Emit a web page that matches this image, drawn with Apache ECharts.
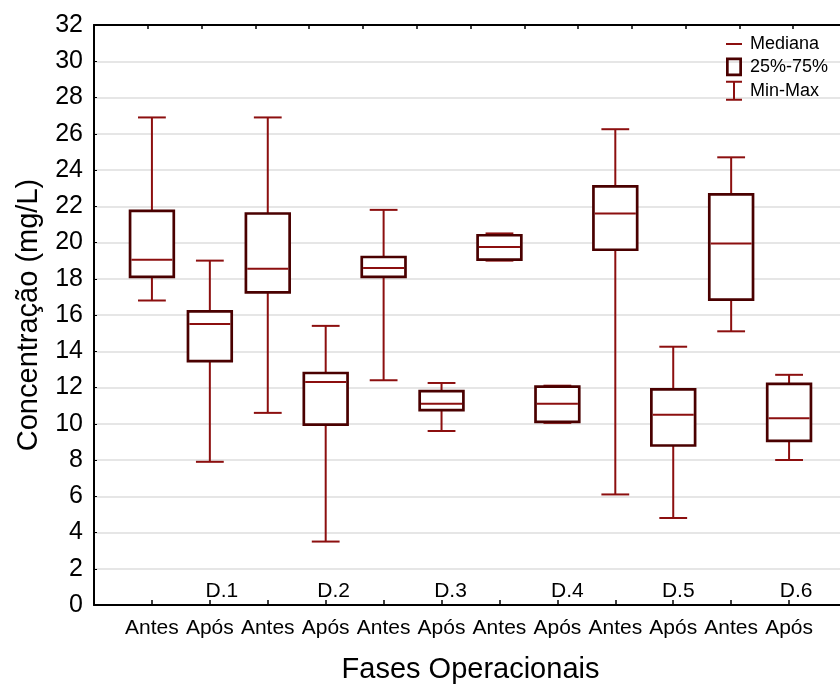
<!DOCTYPE html>
<html>
<head>
<meta charset="utf-8">
<script src="https://cdn.jsdelivr.net/npm/echarts@6/dist/echarts.min.js"></script>
<style>html,body{margin:0;padding:0;background:#fff;}#chart{width:840px;height:684px;}</style>
</head>
<body>
<div id="chart"></div>
<script>
// ---- data ----
const categories = ['Antes','Após','Antes','Após','Antes','Após','Antes','Após','Antes','Após','Antes','Após'];
const phaseLabels = ['D.1','D.2','D.3','D.4','D.5','D.6'];
const minVals    = [16.8, 7.9, 10.6, 3.5, 12.4, 9.6, 19.0, 10.05, 6.1, 4.8, 15.1, 8.0];
const q1Vals     = [18.1, 13.45, 17.25, 9.95, 18.1, 10.75, 19.05, 10.1, 19.6, 8.8, 16.85, 9.05];
const medianVals = [19.05, 15.5, 18.55, 12.3, 18.6, 11.1, 19.75, 11.1, 21.6, 10.5, 19.95, 10.3];
const q3Vals     = [21.75, 16.2, 21.6, 12.8, 19.2, 11.8, 20.4, 12.05, 23.1, 11.9, 22.65, 12.2];
const maxVals    = [26.9, 19.0, 26.9, 15.4, 21.8, 12.25, 20.5, 12.1, 26.25, 14.25, 24.7, 12.7];
const yMin = 0, yMax = 32, yStep = 2;

// ---- style ----
const FONT = 'Liberation Sans, Arial, sans-serif';
const whiskerColor = '#8c0f0f';
const boxColor = '#4a0000';
const dLabelShift = [12, 8, 9, 10, 5, 7];

// ---- build ----
const axisCats = [''].concat(categories).concat(['']);
const phaseCats = axisCats.map(function (c, i) {
  return (i > 0 && i % 2 === 0 && i / 2 - 1 < phaseLabels.length) ? phaseLabels[i / 2 - 1] : '';
});
const topCats = axisCats.map(function () { return ''; });
const boxData = categories.map(function (c, i) {
  return [i + 1, minVals[i], q1Vals[i], medianVals[i], q3Vals[i], maxVals[i]];
});
const rich = {};
dLabelShift.forEach(function (s, k) {
  rich['d' + k] = { padding: [0, 0, 0, 2 * s], fontSize: 21, fontFamily: FONT, color: '#000' };
});

function pts(api) {
  const x = api.value(0);
  return {
    min: api.coord([x, api.value(1)]),
    q1: api.coord([x, api.value(2)]),
    med: api.coord([x, api.value(3)]),
    q3: api.coord([x, api.value(4)]),
    max: api.coord([x, api.value(5)]),
    band: api.size([1, 0])[0]
  };
}

const chart = echarts.init(document.getElementById('chart'), null, { renderer: 'canvas' });
chart.setOption({
  animation: false,
  backgroundColor: '#fff',
  textStyle: { fontFamily: FONT },
  grid: { left: 94, top: 25, width: 753, height: 580, containLabel: false, outerBoundsMode: 'none' },
  legend: {
    orient: 'vertical', left: 726, top: 35, padding: 0,
    itemWidth: 16, itemHeight: 20, itemGap: 4.5,
    symbolKeepAspect: true,
    selectedMode: false,
    textStyle: { fontSize: 18, fontFamily: FONT, color: '#000', padding: [0, 0, 0, 3] },
    data: [
      { name: 'Mediana', icon: 'path://M0,9h16v2h-16z', itemStyle: { color: whiskerColor, borderWidth: 0 } },
      { name: '25%-75%', icon: 'path://M0,0.6h16v18.8h-16z M2.7,3.3v13.4h10.6v-13.4z', itemStyle: { color: boxColor, borderWidth: 0 } },
      { name: 'Min-Max', icon: 'path://M0,0h16v2h-16z M7,2h2v16h-2z M0,18h16v2h-16z', itemStyle: { color: whiskerColor, borderWidth: 0 } }
    ]
  },
  xAxis: [
    {
      type: 'category', data: axisCats, position: 'bottom', boundaryGap: false,
      name: 'Fases Operacionais', nameLocation: 'middle', nameGap: 50,
      nameTextStyle: { fontSize: 29, fontFamily: FONT, color: '#000' },
      axisLine: { show: true, onZero: false, lineStyle: { color: '#000', width: 2 } },
      axisTick: { show: true, inside: true, length: 5, interval: 0, lineStyle: { color: '#000', width: 1.5 } },
      axisLabel: { show: true, interval: 0, margin: 12.5, fontSize: 21, fontFamily: FONT, color: '#000' },
      splitLine: { show: false }
    },
    {
      type: 'category', data: phaseCats, position: 'bottom', boundaryGap: false,
      axisLine: { show: false, onZero: false },
      axisTick: { show: false },
      axisLabel: {
        show: true, inside: true, interval: 0, margin: 3, fontSize: 21, fontFamily: FONT, color: '#000',
        formatter: function (v) {
          const k = phaseLabels.indexOf(v);
          return k >= 0 ? '{d' + k + '|' + v + '}' : '';
        },
        rich: rich
      },
      splitLine: { show: false }
    },
    {
      type: 'category', data: topCats, position: 'top', boundaryGap: true,
      axisLine: { show: true, onZero: false, lineStyle: { color: '#000', width: 2 } },
      axisTick: { show: true, inside: true, length: 4, interval: 0, lineStyle: { color: '#000', width: 1.5 } },
      axisLabel: { show: false },
      splitLine: { show: false }
    }
  ],
  yAxis: {
    type: 'value', min: yMin, max: yMax, interval: yStep,
    name: 'Concentração (mg/L)', nameLocation: 'middle', nameGap: 51,
    nameTextStyle: { fontSize: 29, fontFamily: FONT, color: '#000' },
    axisLine: { show: true, lineStyle: { color: '#000', width: 2 } },
    axisTick: { show: true, inside: true, length: 3, lineStyle: { color: '#000', width: 1 } },
    axisLabel: { show: true, margin: 11, fontSize: 25, fontFamily: FONT, color: '#000' },
    splitLine: { show: true, lineStyle: { color: '#dedede', width: 1.5 } }
  },
  series: [
    {
      name: 'Min-Max', type: 'custom', xAxisIndex: 0, yAxisIndex: 0,
      itemStyle: { color: whiskerColor },
      encode: { x: 0, y: [1, 2, 3, 4, 5] },
      data: boxData,
      renderItem: function (params, api) {
        const p = pts(api);
        const cx = p.min[0];
        const cw = p.band * 0.48;
        const st = { stroke: whiskerColor, lineWidth: 2 };
        return {
          type: 'group', children: [
            { type: 'line', shape: { x1: cx, y1: p.min[1], x2: cx, y2: p.q1[1] }, style: st },
            { type: 'line', shape: { x1: cx, y1: p.q3[1], x2: cx, y2: p.max[1] }, style: st },
            { type: 'line', shape: { x1: cx - cw / 2, y1: p.min[1], x2: cx + cw / 2, y2: p.min[1] }, style: st },
            { type: 'line', shape: { x1: cx - cw / 2, y1: p.max[1], x2: cx + cw / 2, y2: p.max[1] }, style: st }
          ]
        };
      }
    },
    {
      name: '25%-75%', type: 'custom', xAxisIndex: 0, yAxisIndex: 0,
      itemStyle: { color: boxColor },
      encode: { x: 0, y: [1, 2, 3, 4, 5] },
      data: boxData,
      renderItem: function (params, api) {
        const p = pts(api);
        const cx = p.q1[0];
        const bw = p.band * 0.755;
        return {
          type: 'rect',
          shape: { x: cx - bw / 2, y: p.q3[1], width: bw, height: p.q1[1] - p.q3[1] },
          style: { fill: '#fff', stroke: boxColor, lineWidth: 2.7 }
        };
      }
    },
    {
      name: 'Mediana', type: 'custom', xAxisIndex: 0, yAxisIndex: 0,
      itemStyle: { color: whiskerColor },
      encode: { x: 0, y: [1, 2, 3, 4, 5] },
      data: boxData,
      renderItem: function (params, api) {
        const p = pts(api);
        const cx = p.med[0];
        const bw = p.band * 0.755 - 2.7;
        return {
          type: 'line',
          shape: { x1: cx - bw / 2, y1: p.med[1], x2: cx + bw / 2, y2: p.med[1] },
          style: { stroke: whiskerColor, lineWidth: 2 }
        };
      }
    }
  ]
});
</script>
</body>
</html>
